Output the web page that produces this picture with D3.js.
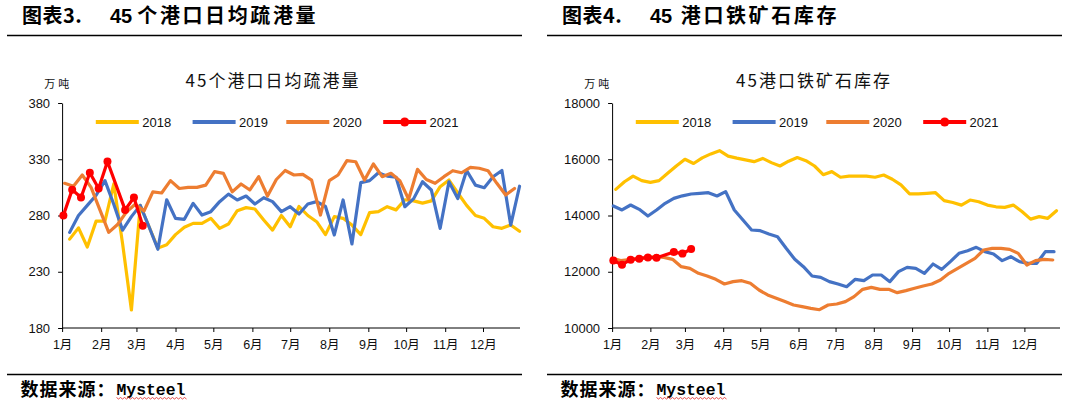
<!DOCTYPE html>
<html><head><meta charset="utf-8">
<script src="https://cdn.jsdelivr.net/npm/d3@7/dist/d3.min.js"></script>
<style>
body{margin:0;background:#fff}
svg{display:block}
</style></head>
<body>
<svg id="c" width="1079" height="408"></svg>
<script>
// ---------- data ----------
const months = ["1月","2月","3月","4月","5月","6月","7月","8月","9月","10月","11月","12月"];
const years = ["2018","2019","2020","2021"];
const colors = ["#FFC000","#4472C4","#ED7D31","#FF0000"];

// 45 港口日均疏港量 (万吨), weekly
const vol2018 = [259,269,252,275,275,308,255,196,289,270,251,254,263,269.5,273,273,277.5,268.6,272.4,284.3,287,285.8,276,267,280,270,288,280,274.5,263,279,277.5,271.5,263,282.5,283.4,287.8,285,294,293,291,293,305.6,311.5,300,289,280,277.5,270,268.6,271.5,266];
const vol2019 = [265,280,289,298,311,290,267,279,289,270,250,294,277.5,276.6,290.8,280.4,283.4,292.3,299,293.8,297.3,290.2,295.8,292.3,283.4,287.8,281.3,290.2,292.3,288,262.7,293.8,254.7,309.2,311,318,315,314,287.8,295,310,302.7,268.6,310,295,320,307,304.7,314.5,320,271.5,306];
const vol2020 = [308.6,306,316,305,285,265,272,283,290,284,301,300,311,304,305,305,307,319,317.5,301,308,302.7,314.5,297.3,312,320,316,316.6,311.5,280.4,311,316,328.7,327.8,311.5,325.8,314.5,317.5,311,294.4,321,312,308.6,314.5,319.8,318,322.8,322,319.8,308.6,298.2,304];
const vol2021 = [280,303,296,318,304,328,285,296,271];

// 45 港口铁矿石库存 (万吨), weekly
const stock2018 = [14930,15200,15400,15240,15180,15240,15500,15760,16000,15850,16050,16190,16305,16110,16040,15980,15915,16030,15880,15760,15930,16060,15950,15760,15450,15560,15360,15400,15400,15400,15360,15440,15290,15090,14770,14770,14790,14810,14530,14460,14370,14550,14490,14370,14310,14290,14370,14140,13870,13960,13900,14170];
const stock2019 = [14338,14196,14373,14219,13982,14196,14433,14610,14700,14764,14788,14812,14693,14847,14196,13840,13485,13461,13342,13247,12833,12442,12181,11849,11802,11648,11565,11470,11731,11683,11885,11885,11648,12003,12157,12122,11944,12276,12086,12359,12655,12750,12868,12714,12631,12394,12536,12359,12300,12300,12714,12714];
const stock2020 = [12480,12400,12430,12470,12500,12540,12513,12442,12181,12122,11944,11849,11731,11565,11648,11683,11589,11351,11174,11055,10940,10818,10759,10700,10650,10818,10854,10937,11115,11375,11446,11375,11375,11257,11328,11411,11494,11565,11707,11944,12122,12299,12477,12773,12833,12833,12797,12655,12240,12394,12442,12418];
const stock2021 = [12400,12250,12430,12465,12510,12495,12700,12645,12810];

// first day-of-year of each weekly series, and 2021 report days
const volStartDay = [6,6,2];
const stockStartDay = [3,1,0];
const days2021 = [1,8,15,22,29,36,50,57,64];

const volTicks = [180,230,280,330,380];
const stockTicks = [10000,12000,14000,16000,18000];

// ---------- drawing ----------
const svg = d3.select("#c");
const CJK = "'Noto Sans CJK SC','Noto Sans',sans-serif";
const LAT = "'Liberation Sans',Arial,'Noto Sans CJK SC',sans-serif";
const base = new Date(2021,0,1);
const dayDate = d => d3.timeDay.offset(base, d);
const monthStarts = d3.range(12).map(m => new Date(2021,m,1));

function weekly(vals, start){ return vals.map((v,i)=>({d:dayDate(start+7*i), v})); }

function drawPanel(o){
  const g = svg.append("g");
  const X = v => o.ox + v;
  // header
  g.append("text").attr("x",X(22)).attr("y",23).attr("font-family",CJK).attr("font-weight","bold")
    .attr("font-size",20).attr("letter-spacing",0.5).attr("fill","#000").text(o.fig);
  g.append("text").attr("x",X(110)).attr("y",23).attr("font-family",LAT).attr("font-weight","bold")
    .attr("font-size",20).attr("fill","#000").text("45");
  g.append("text").attr("x",X(o.headX)).attr("y",23).attr("font-family",CJK).attr("font-weight","bold")
    .attr("font-size",20).attr("letter-spacing",2.6).attr("fill","#000").text(o.head);
  g.append("line").attr("x1",X(7)).attr("x2",X(522)).attr("y1",35.5).attr("y2",35.5)
    .attr("stroke","#000").attr("stroke-width",1.3);
  // footer
  g.append("line").attr("x1",X(7)).attr("x2",X(522)).attr("y1",374.5).attr("y2",374.5)
    .attr("stroke","#000").attr("stroke-width",1.3);
  g.append("text").attr("x",X(20.6)).attr("y",396).attr("font-family",CJK).attr("font-weight","bold")
    .attr("font-size",18).attr("letter-spacing",1).attr("fill","#000").text("数据来源：");
  g.append("text").attr("x",X(116.5)).attr("y",395).attr("font-family","'Liberation Mono','DejaVu Sans Mono',monospace")
    .attr("font-weight","bold").attr("font-size",16.4).attr("fill","#000").text("Mysteel");
  // wavy spell-check underline
  let p = "M"+X(116.5)+",397.5";
  for(let x=116.5, k=0; x<185; x+=2, k++){ p += " L"+X(x+2)+","+(k%2?397.5:399); }
  g.append("path").attr("d",p).attr("fill","none").attr("stroke","#e02020").attr("stroke-width",0.8);

  // scales
  const pxDay = (o.dec1 - o.x0)/334;
  const x = d3.scaleTime().domain([base, new Date(2022,0,1)]).range([o.x0, o.x0 + 365*pxDay]);
  const y = d3.scaleLinear().domain(o.yDomain).range([328,103]);

  // title & unit
  g.append("text").attr("x",X(o.titleX)).attr("y",87).attr("text-anchor","middle").attr("font-family",CJK)
    .attr("font-size",17).attr("letter-spacing",2).attr("fill","#111").text(o.title);
  g.append("text").attr("x",X(44.3)).attr("y",88).attr("font-family",CJK)
    .attr("font-size",11).attr("letter-spacing",3).attr("fill","#111").text("万吨");

  // axes
  const xa = g.append("g").attr("transform","translate(0,328)")
    .call(d3.axisBottom(x).tickValues(monthStarts).tickFormat((d,i)=>months[i]).tickSize(4).tickSizeOuter(0).tickPadding(8));
  xa.select(".domain").attr("stroke","#000").attr("d",`M${o.x0},0H${X(520)}`);
  xa.selectAll(".tick line").attr("stroke","#000");
  xa.selectAll("text").attr("font-family",LAT).attr("font-size",12.5).attr("fill","#111");
  const ya = g.append("g").attr("transform",`translate(${o.x0},0)`)
    .call(d3.axisLeft(y).tickValues(o.yTicks).tickFormat(d3.format("d")).tickSize(4).tickSizeOuter(0).tickPadding(8));
  ya.select(".domain").attr("stroke","#000");
  ya.selectAll(".tick line").attr("stroke","#000");
  ya.selectAll("text").attr("font-family",LAT).attr("font-size",13).attr("fill","#111");

  // series
  const line = d3.line().x(d=>x(d.d)).y(d=>y(d.v));
  o.series.forEach((vals,i)=>{
    const data = i<3 ? weekly(vals, o.start[i]) : vals.map((v,j)=>({d:dayDate(days2021[j]), v}));
    g.append("path").datum(data).attr("d",line).attr("fill","none").attr("stroke",colors[i])
      .attr("stroke-width",3.2).attr("stroke-linejoin","round").attr("stroke-linecap","round");
    if(i===3){
      g.selectAll(null).data(data).enter().append("circle").attr("cx",d=>x(d.d)).attr("cy",d=>y(d.v))
        .attr("r",4).attr("fill",colors[i]);
    }
  });

  // legend
  const lx = [95.8,192.6,286.3,383.2];
  years.forEach((yr,i)=>{
    const bx = X(lx[i]);
    g.append("line").attr("x1",bx).attr("x2",bx+43).attr("y1",122).attr("y2",122)
      .attr("stroke",colors[i]).attr("stroke-width",4);
    if(i===3) g.append("circle").attr("cx",bx+21.5).attr("cy",122).attr("r",4.6).attr("fill",colors[i]);
    g.append("text").attr("x",bx+46.4).attr("y",127).attr("font-family",LAT).attr("font-size",13)
      .attr("fill","#111").text(yr);
  });
}

drawPanel({ox:0, fig:"图表3.", head:"个港口日均疏港量", headX:137.3, title:"45个港口日均疏港量",
  titleX:273, x0:62.1, dec1:483, yDomain:[180,380], yTicks:volTicks,
  series:[vol2018,vol2019,vol2020,vol2021], start:volStartDay});
drawPanel({ox:540, fig:"图表4.", head:"港口铁矿石库存", headX:140.8, title:"45港口铁矿石库存",
  titleX:274, x0:612.1, dec1:1024.4, yDomain:[10000,18000], yTicks:stockTicks,
  series:[stock2018,stock2019,stock2020,stock2021], start:stockStartDay});
</script>
</body></html>
